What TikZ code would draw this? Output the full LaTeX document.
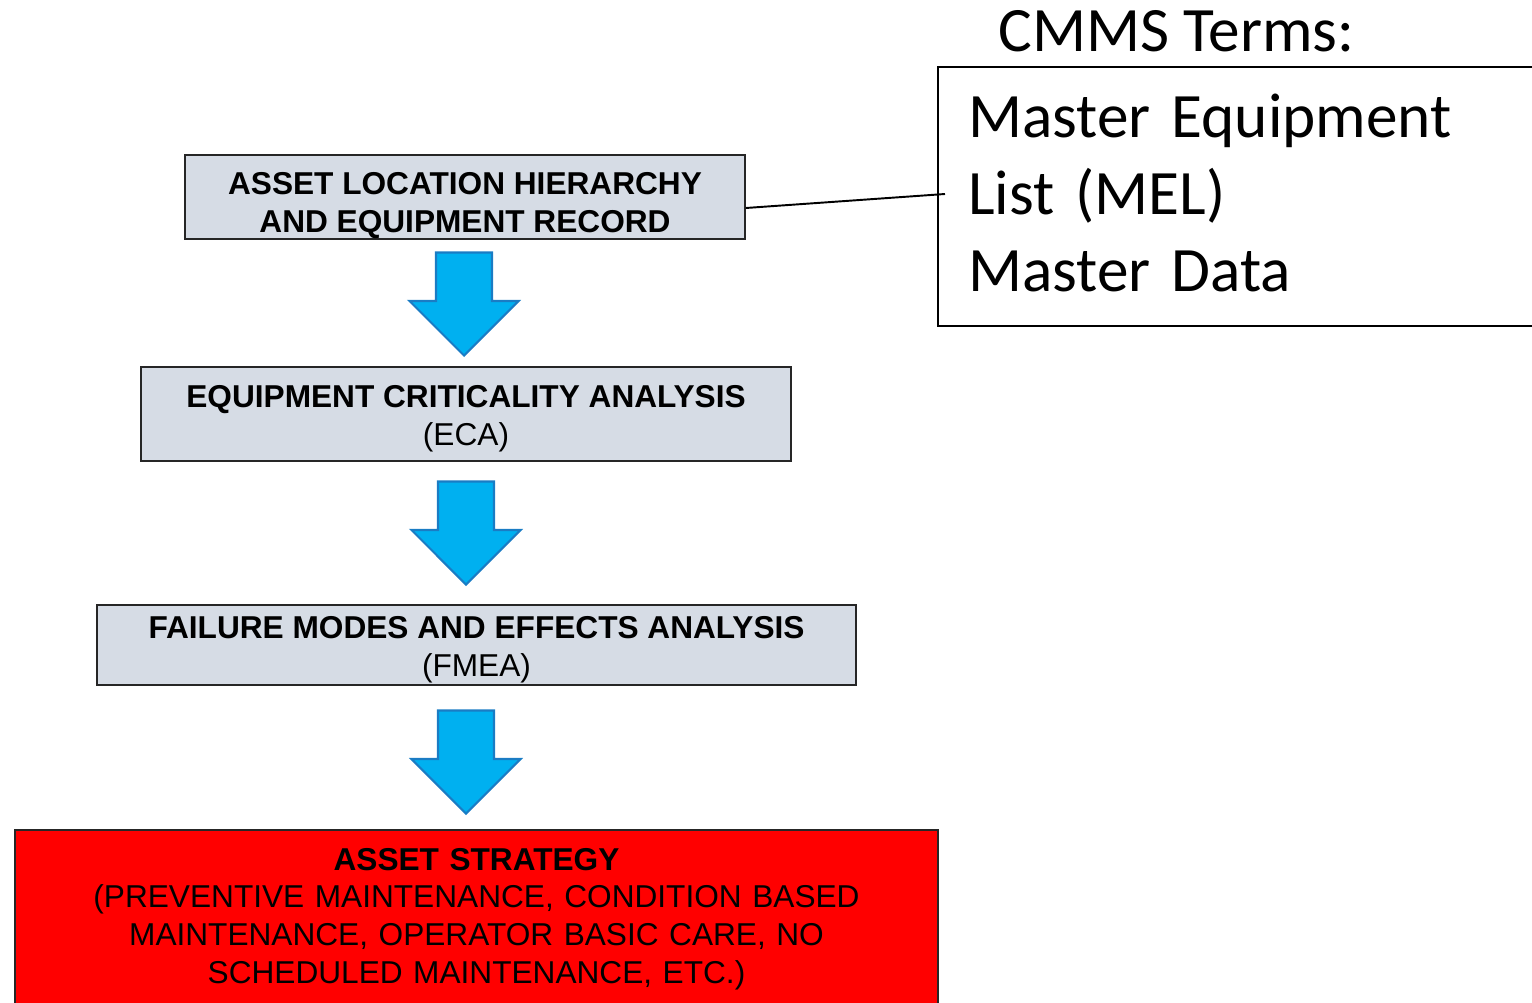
\documentclass[tikz,border=0pt]{standalone}
\usepackage{fontspec}
\setmainfont{Liberation Sans}
\newfontfamily\calib{Carlito}
\usetikzlibrary{shapes.arrows}

\definecolor{boxgrey}{HTML}{D6DCE5}
\definecolor{arrowfill}{HTML}{00B0F0}
\definecolor{arrowline}{HTML}{1A7CC4}

\tikzset{
  stepbox/.style={draw=black!85,line width=1.1pt,fill=boxgrey,align=center,
    font=\fontsize{18}{21.6}\selectfont,inner sep=0pt},
  downarrow/.style={single arrow,shape border rotate=270,fill=arrowfill,
    draw=arrowline,line width=1.2pt,minimum height=2.06cm,minimum width=2.16cm,
    single arrow head extend=0.53cm,inner sep=0.54cm}
}

\begin{document}
\begin{tikzpicture}[x=0.02cm,y=-0.02cm]
  \useasboundingbox (0,0) rectangle (1532,1003);

  \node[stepbox,minimum width=11.2cm,minimum height=1.68cm] (asset) at (465,197)
    {\rule{0pt}{22pt}\textbf{ASSET LOCATION HIERARCHY}\\\textbf{AND EQUIPMENT RECORD}};
  \node[stepbox,minimum width=13cm,minimum height=1.88cm] (eca) at (466,414)
    {\rule{0pt}{17.5pt}\textbf{EQUIPMENT CRITICALITY ANALYSIS}\\(ECA)};
  \node[stepbox,minimum width=15.18cm,minimum height=1.6cm] (fmea) at (476.5,645)
    {\rule{0pt}{17.5pt}\textbf{FAILURE MODES AND EFFECTS ANALYSIS}\\(FMEA)};
  \node[stepbox,fill=red,anchor=north,text width=18.3cm,minimum width=18.46cm,
    inner ysep=0.36cm] (strategy) at (476.5,829)
    {\textbf{ASSET STRATEGY}\\(PREVENTIVE MAINTENANCE, CONDITION BASED\\
     MAINTENANCE, OPERATOR BASIC CARE, NO\\SCHEDULED MAINTENANCE, ETC.)};

  % arrows between the steps
  \node[downarrow] (a1) at (464,290) {};
  \node[downarrow] (a2) at (466,519) {};
  \node[downarrow] (a3) at (466,748) {};

  % CMMS terms
  \node[anchor=base west,font=\calib\fontsize{36}{43.8}\selectfont,inner sep=0pt]
    (title) at (998,52) {CMMS Terms:};
  \node[draw,line width=1.3pt,anchor=west,minimum width=12.8cm,minimum height=5.18cm,
    text width=11.6cm,align=left,inner xsep=0.56cm,
    font=\calib\fontsize{36}{43.8}\selectfont] (terms) at (937,196.5)
    {Master Equipment\\List (MEL)\\Master Data\rule[-4pt]{0pt}{4pt}};

  \coordinate (tie) at (945,194);
  \draw[line width=1.1pt] ([yshift=-0.22cm]asset.east) -- (tie);
\end{tikzpicture}
\end{document}
